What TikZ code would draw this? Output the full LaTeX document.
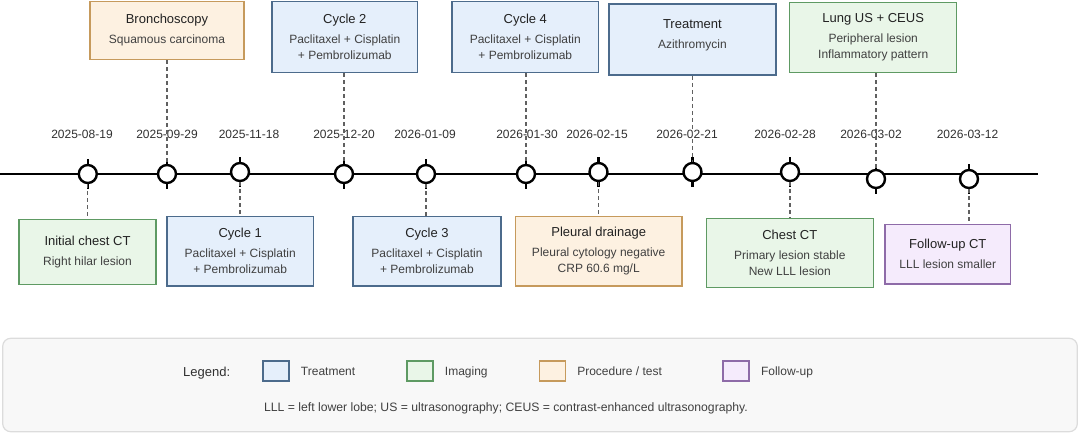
\documentclass[tikz,border=0pt]{standalone}
\usepackage{fontspec}
\setmainfont{Liberation Sans}
\usetikzlibrary{positioning}
\definecolor{treatFill}{HTML}{E5EFFB}
\definecolor{treatDraw}{HTML}{4C6B8C}
\definecolor{imgFill}{HTML}{E9F6E8}
\definecolor{imgDraw}{HTML}{5E9A63}
\definecolor{procFill}{HTML}{FDF1E1}
\definecolor{procDraw}{HTML}{C69A5C}
\definecolor{fupFill}{HTML}{F5EBFC}
\definecolor{fupDraw}{HTML}{8E6BA8}
\definecolor{panelFill}{HTML}{F8F8F8}
\definecolor{panelDraw}{HTML}{DCDCDC}
\definecolor{linkGray}{HTML}{606060}
\definecolor{titleGray}{HTML}{222222}
\definecolor{subGray}{HTML}{404040}
\definecolor{dateGray}{HTML}{303030}
\tikzset{
    evDot/.style={circle, draw=black, line width=2.4pt, fill=white, inner sep=0pt, minimum size=18pt},
    evTick/.style={line width=2.4pt},
    timeLine/.style={line width=2.4pt},
    evLink/.style={draw=linkGray, line width=1.3pt, dash pattern=on 4pt off 3pt},
    dateLbl/.style={font=\fontsize{12}{14}\selectfont, text=dateGray, inner sep=0pt},
    evBox/.style={rectangle, draw, line width=1.5pt, align=center, inner sep=0pt, font=\fontsize{12}{15}\selectfont, text=subGray},
    treatBox/.style={evBox, draw=treatDraw, fill=treatFill},
    imgBox/.style={evBox, draw=imgDraw, fill=imgFill},
    procBox/.style={evBox, draw=procDraw, fill=procFill},
    fupBox/.style={evBox, draw=fupDraw, fill=fupFill},
    legendPanel/.style={rectangle, rounded corners=8pt, draw=panelDraw, fill=panelFill, line width=1.2pt},
    legendSw/.style={rectangle, line width=1.5pt, minimum width=26pt, minimum height=20pt},
    legendLbl/.style={font=\fontsize{12}{14}\selectfont, text=subGray, inner sep=0pt, text height=8.6pt, text depth=0pt},
}
\newcommand{\boxTitle}[1]{{\fontsize{13}{15}\selectfont\color{titleGray}#1}\\[5pt]}
\newcommand{\nl}{\\[1pt]}
\newcommand{\drawEvent}[4]{
    \node[evDot] (#1) at (#2) {};
    \draw[evTick] (#1.north) -- ++(0,-5);
    \draw[evTick] (#1.south) -- ++(0,5);
    \node[dateLbl] (#1-date) at (#3) {#4};
}

\begin{document}
\begin{tikzpicture}[x=1pt, y=-1pt]
    \useasboundingbox (0,0) rectangle (1080,434);

        % timeline
        \coordinate (tlStart) at (0,174);
        \coordinate (tlEnd) at (1038,174);
        \draw[timeLine] (tlStart) -- (tlEnd);

        \drawEvent{e1}{87.8,174}{82,134}{2025-08-19}
        \drawEvent{e2}{167,174}{167,134}{2025-09-29}
        \drawEvent{e3}{240,172}{249,134}{2025-11-18}
        \drawEvent{e4}{344,174}{344,134}{2025-12-20}
        \drawEvent{e5}{426,174}{425,134}{2026-01-09}
        \drawEvent{e6}{526,174}{527,134}{2026-01-30}
        \drawEvent{e7}{598.5,172}{597,134}{2026-02-15}
        \drawEvent{e8}{692.5,172}{687,134}{2026-02-21}
        \drawEvent{e9}{790,172}{785,134}{2026-02-28}
        \drawEvent{e10}{876,179}{871,134}{2026-03-02}
        \drawEvent{e11}{969,179}{967.5,134}{2026-03-12}

        % boxes above the line
        \node[procBox, minimum width=153.6pt, minimum height=57.6pt] (bronch) at (167,30.5) {\boxTitle{Bronchoscopy}Squamous carcinoma};
        \node[treatBox, minimum width=145.7pt, minimum height=71pt] (cyc2) at (344.8,37.2) {\boxTitle{Cycle 2}Paclitaxel + Cisplatin\nl+ Pembrolizumab};
        \node[treatBox, minimum width=146.4pt, minimum height=71pt] (cyc4) at (525.3,37.2) {\boxTitle{Cycle 4}Paclitaxel + Cisplatin\nl+ Pembrolizumab};
        \node[treatBox, minimum width=167pt, minimum height=71pt] (azi) at (692.4,39.5) {\boxTitle{Treatment}Azithromycin\\[-4pt]\mbox{}};
        \node[imgBox, minimum width=167pt, minimum height=70pt] (lungUS) at (873.2,37.7) {\boxTitle{Lung US + CEUS}Peripheral lesion\nl Inflammatory pattern};

        % boxes below the line
        \node[imgBox, minimum width=137pt, minimum height=65pt] (initCT) at (87.5,251.8) {\boxTitle{Initial chest CT}Right hilar lesion};
        \node[treatBox, minimum width=146.4pt, minimum height=69.3pt] (cyc1) at (240.2,251.3) {\boxTitle{Cycle 1}Paclitaxel + Cisplatin\nl+ Pembrolizumab};
        \node[treatBox, minimum width=148pt, minimum height=69.3pt] (cyc3) at (427,251.3) {\boxTitle{Cycle 3}Paclitaxel + Cisplatin\nl+ Pembrolizumab};
        \node[procBox, minimum width=166.4pt, minimum height=69.3pt] (drain) at (598.7,251.3) {\boxTitle{Pleural drainage}Pleural cytology negative\nl CRP 60.6 mg/L};
        \node[imgBox, minimum width=167pt, minimum height=69pt] (chestCT) at (789.8,252.8) {\boxTitle{Chest CT}Primary lesion stable\nl New LLL lesion};
        \node[fupBox, minimum width=125.7pt, minimum height=59.7pt] (fupCT) at (947.8,254.2) {\boxTitle{Follow-up CT}LLL lesion smaller};

        % dashed links
        \draw[evLink] (bronch.south -| e2) -- (e2.north);
        \draw[evLink] (cyc2.south -| e4) -- (e4.north);
        \draw[evLink] (cyc4.south -| e6) -- (e6.north);
        \draw[evLink] (azi.south -| e8) -- (e8.north);
        \draw[evLink] (lungUS.south -| e10) -- (e10.north);
        \draw[evLink] (e1.south) -- (e1.south |- initCT.north);
        \draw[evLink] (e3.south) -- (e3.south |- cyc1.north);
        \draw[evLink] (e5.south) -- (e5.south |- cyc3.north);
        \draw[evLink] (e7.south) -- (e7.south |- drain.north);
        \draw[evLink] (e9.south) -- (e9.south |- chestCT.north);
        \draw[evLink] (e11.south) -- (e11.south |- fupCT.north);

        % legend
        \node[legendPanel, minimum width=1074.6pt, minimum height=93.4pt] (legend) at (540,385) {};
        \node[legendLbl, font=\fontsize{13}{15}\selectfont, text=dateGray] (legTitle) at (206.7,371.7) {Legend:};
        \node[legendSw, draw=treatDraw, fill=treatFill] (swTreat) at (276,370.8) {};
        \node[legendLbl, right=11pt of swTreat] (lblTreat) {Treatment};
        \node[legendSw, draw=imgDraw, fill=imgFill] (swImg) at (420,370.8) {};
        \node[legendLbl, right=11pt of swImg] (lblImg) {Imaging};
        \node[legendSw, draw=procDraw, fill=procFill] (swProc) at (552.3,370.8) {};
        \node[legendLbl, right=11pt of swProc] (lblProc) {Procedure / test};
        \node[legendSw, draw=fupDraw, fill=fupFill] (swFup) at (736.1,370.8) {};
        \node[legendLbl, right=11pt of swFup] (lblFup) {Follow-up};
        \node[legendLbl, font=\fontsize{12.2}{14}\selectfont] (legNote) at (506,407.3) {LLL = left lower lobe; US = ultrasonography; CEUS = contrast-enhanced ultrasonography.};

\end{tikzpicture}
\end{document}
